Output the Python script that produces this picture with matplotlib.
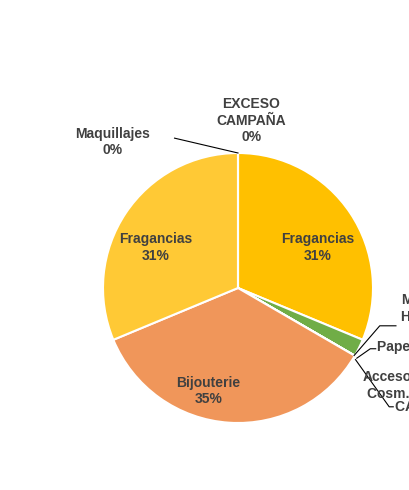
import numpy as np
import matplotlib.pyplot as plt

plt.rcParams['font.family'] = ['Liberation Sans', 'DejaVu Sans']

labels = ['EXCESO\nCAMPAÑA', 'Fragancias', 'Otros', 'Menaje\nHogar', 'Papelería',
          'Accesorios\nCosm.', 'CAT', 'Bijouterie', 'Fragancias', 'Maquillajes']
values = [0.0, 31.3, 2.1, 0.0, 0.0, 0.0, 0.0, 35.4, 31.3, 0.0]
colors = ['#A5A5A5', '#FFC000', '#70AD47', '#5B9BD5', '#4472C4',
          '#ED7D31', '#264478', '#F0965A', '#FFC935', '#9E480E']

fig = plt.figure(figsize=(4.1, 4.9), dpi=100)
ax = fig.add_axes([103/410, 67/490, 270/410, 270/490])
ax.pie(values, colors=colors, startangle=90, counterclock=False,
       wedgeprops=dict(edgecolor='white', linewidth=1.5))
ax.set_xlim(-1, 1)
ax.set_ylim(-1, 1)
ax.set_aspect('equal')
ax.axis('off')

tc = '#404040'
kw = dict(fontsize=10, fontweight='bold', color=tc, ha='center', va='center')
ax.text(0.59, 0.3, 'Fragancias\n31%', **kw)
ax.text(-0.61, 0.3, 'Fragancias\n31%', **kw)
ax.text(-0.22, -0.76, 'Bijouterie\n35%', **kw)
ax.text(0.1, 1.24, 'EXCESO\nCAMPAÑA\n0%', **kw)
ax.text(-0.93, 1.08, 'Maquillajes\n0%', **kw)
ax.plot([-0.47, 0.0], [1.11, 1.0], color='black', lw=0.8, clip_on=False)

# etiquetas recortadas a la derecha (como en el original)
rk = dict(fontsize=10, fontweight='bold', color=tc, va='center', clip_on=False)
ax.text(1.21, -0.15, 'Menaje\nHogar 0%', ha='left', linespacing=1.25, **rk)
ax.text(1.03, -0.44, 'Papelería 0%', ha='left', **rk)
ax.text(1.2, -0.72, 'Accesorios\nCosm. 0%', ha='center', linespacing=1.25, **rk)
ax.text(1.16, -0.88, 'CAT 0%', ha='left', **rk)
lk = dict(color='black', lw=0.8, clip_on=False)
ax.plot([0.86, 1.05, 1.17], [-0.5, -0.28, -0.28], **lk)
ax.plot([0.88, 0.98, 1.02], [-0.52, -0.45, -0.45], **lk)
ax.plot([0.87, 1.12, 1.15], [-0.53, -0.88, -0.88], **lk)

fig.savefig('out.png', dpi=100)
